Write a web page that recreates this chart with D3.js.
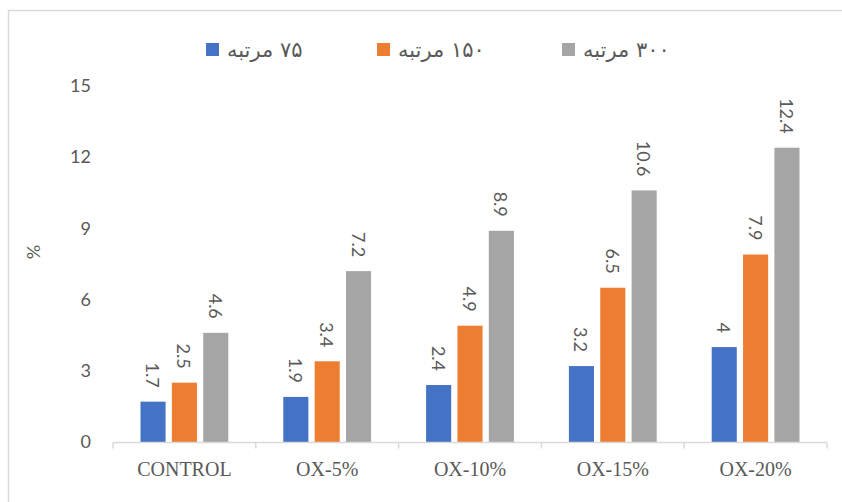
<!DOCTYPE html>
<html lang="fa">
<head>
<meta charset="UTF-8">
<title>Chart</title>
<style>
    body { margin: 0; background: #fff; }
    svg { display: block; }
</style>
</head>
<body>
<svg width="842" height="502"></svg>
<script src="https://d3js.org/d3.v7.min.js"></script>
<script>
    const categories = ["CONTROL", "OX-5%", "OX-10%", "OX-15%", "OX-20%"];
    const seriesNames = ["۷۵ مرتبه", "۱۵۰ مرتبه", "۳۰۰ مرتبه"];
    const values75 = [1.7, 1.9, 2.4, 3.2, 4];
    const values150 = [2.5, 3.4, 4.9, 6.5, 7.9];
    const values300 = [4.6, 7.2, 8.9, 10.6, 12.4];
    const yTicks = [0, 3, 6, 9, 12, 15];
    const colors = ["#4472C4", "#ED7D31", "#A5A5A5"];

    const allValues = [values75, values150, values300];

    const svg = d3.select("svg");

    // outer frame (only top/left visible in the picture)
    svg.append("rect")
        .attr("x", 8.5).attr("y", 10.5)
        .attr("width", 900).attr("height", 600)
        .attr("fill", "none")
        .attr("stroke", "#d9d9d9")
        .attr("stroke-width", 1.5);

    const x = d3.scaleBand().domain(categories).range([113, 827]).padding(0);
    const inner = d3.scaleBand().domain(d3.range(3))
        .range([27.5, x.bandwidth() - 27.5]).paddingInner(0.2);
    const y = d3.scaleLinear().domain([0, 15]).range([442, 86]);

    // y axis labels
    const yAxis = svg.append("g")
        .attr("transform", "translate(113,0)")
        .call(d3.axisLeft(y).tickValues(yTicks).tickSize(0).tickPadding(22));
    yAxis.select(".domain").remove();
    yAxis.selectAll("text")
        .attr("fill", "#595959")
        .style("font-family", "Lato, 'Open Sans', sans-serif")
        .style("font-size", "18px");

    svg.append("text")
        .attr("transform", "translate(40,252) rotate(-90)")
        .attr("text-anchor", "middle")
        .attr("fill", "#595959")
        .style("font-family", "Lato, sans-serif")
        .style("font-size", "18px")
        .text("%");

    // bars
    allValues.forEach((vals, s) => {
        svg.append("g").selectAll("rect")
            .data(vals)
            .join("rect")
            .attr("x", (d, i) => x(categories[i]) + inner(s))
            .attr("y", d => y(d))
            .attr("width", inner.bandwidth())
            .attr("height", d => y(0) - y(d))
            .attr("fill", colors[s]);

        svg.append("g").selectAll("text")
            .data(vals)
            .join("text")
            .attr("transform", (d, i) => {
                const cx = x(categories[i]) + inner(s) + inner.bandwidth() / 2;
                return `translate(${cx},${y(d) - 14}) rotate(90)`;
            })
            .attr("text-anchor", "end")
            .attr("dominant-baseline", "central")
            .attr("fill", "#595959")
            .style("font-family", "Lato, 'Open Sans', sans-serif")
            .style("font-size", "18px")
            .text(d => d);
    });

    // x axis
    const xAxis = svg.append("g")
        .attr("transform", "translate(0,442.5)");
    xAxis.append("line")
        .attr("x1", 113).attr("x2", 827)
        .attr("stroke", "#d9d9d9").attr("stroke-width", 1.5);
    const bounds = categories.map(c => x(c)).concat([x.range()[1]]);
    xAxis.selectAll(".tk")
        .data(bounds)
        .join("line")
        .attr("class", "tk")
        .attr("x1", d => d).attr("x2", d => d)
        .attr("y1", 0).attr("y2", 6)
        .attr("stroke", "#d9d9d9").attr("stroke-width", 1.5);
    xAxis.selectAll(".lbl")
        .data(categories)
        .join("text")
        .attr("class", "lbl")
        .attr("x", d => x(d) + x.bandwidth() / 2)
        .attr("y", 33)
        .attr("text-anchor", "middle")
        .attr("fill", "#595959")
        .style("font-family", "'Liberation Serif', 'Times New Roman', serif")
        .style("font-size", "20px")
        .text(d => d);

    // legend
    const legendX = [206, 377, 562];
    const legend = svg.append("g");
    seriesNames.forEach((name, s) => {
        legend.append("rect")
            .attr("x", legendX[s]).attr("y", 43)
            .attr("width", 13).attr("height", 13)
            .attr("fill", colors[s]);
        const t = legend.append("text")
            .attr("y", 50)
            .attr("direction", "rtl")
            .attr("dominant-baseline", "central")
            .attr("text-anchor", "middle")
            .attr("fill", "#595959")
            .style("font-family", "'DejaVu Sans', sans-serif")
            .style("font-size", "21px")
            .text(name);
        const w = t.node().getComputedTextLength();
        t.attr("x", legendX[s] + 21 + w / 2);
    });
</script>
</body>
</html>
